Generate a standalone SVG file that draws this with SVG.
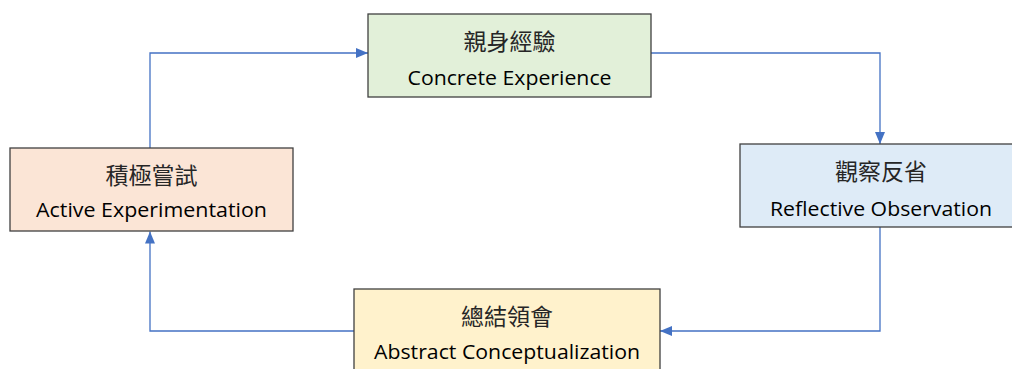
<svg xmlns="http://www.w3.org/2000/svg" width="1012" height="369" viewBox="0 0 1012 369">
  <style>
    .box { stroke: #404040; stroke-width: 1.3; }
    .zh { font-family: "Noto Sans CJK TC", "Noto Sans CJK SC", sans-serif; font-size: 23px; fill: #262626; text-anchor: middle; }
    .en { font-family: "Open Sans", "Liberation Sans", sans-serif; font-size: 19.5px; fill: #000000; text-anchor: middle; }
    .conn { fill: none; stroke: #4472c4; stroke-width: 1.3; }
  </style>
  <defs>
    <marker id="arrow" viewBox="0 0 12 10" refX="12" refY="5" markerWidth="12" markerHeight="10" markerUnits="userSpaceOnUse" orient="auto">
      <path d="M0,0 L12,5 L0,10 z" fill="#4472c4"/>
    </marker>
  </defs>
  <rect width="1012" height="369" fill="#ffffff"/>
  <g id="connectors">
    <path class="conn" d="M651,53 H880 V144" marker-end="url(#arrow)"/>
    <path class="conn" d="M880,227 V331 H660" marker-end="url(#arrow)"/>
    <path class="conn" d="M354,331 H150 V231.5" marker-end="url(#arrow)"/>
    <path class="conn" d="M150,148 V53 H368" marker-end="url(#arrow)"/>
  </g>
  <g id="concrete-experience">
    <rect class="box" x="368" y="14" width="283" height="83" fill="#e2f0d9"/>
    <text class="zh" x="509.5" y="50">親身經驗</text>
    <text class="en" x="509.5" y="85" textLength="204" lengthAdjust="spacingAndGlyphs">Concrete Experience</text>
  </g>
  <g id="reflective-observation">
    <rect class="box" x="740" y="144" width="283" height="83" fill="#deebf7"/>
    <text class="zh" x="881" y="180">觀察反省</text>
    <text class="en" x="881" y="216" textLength="222" lengthAdjust="spacingAndGlyphs">Reflective Observation</text>
  </g>
  <g id="abstract-conceptualization">
    <rect class="box" x="354" y="289" width="306" height="90" fill="#fff2cc"/>
    <text class="zh" x="507" y="325">總結領會</text>
    <text class="en" x="507" y="359" textLength="266" lengthAdjust="spacingAndGlyphs">Abstract Conceptualization</text>
  </g>
  <g id="active-experimentation">
    <rect class="box" x="10" y="148" width="283" height="83" fill="#fbe5d6"/>
    <text class="zh" x="151.5" y="184">積極嘗試</text>
    <text class="en" x="151.5" y="217" textLength="231" lengthAdjust="spacingAndGlyphs">Active Experimentation</text>
  </g>
</svg>
